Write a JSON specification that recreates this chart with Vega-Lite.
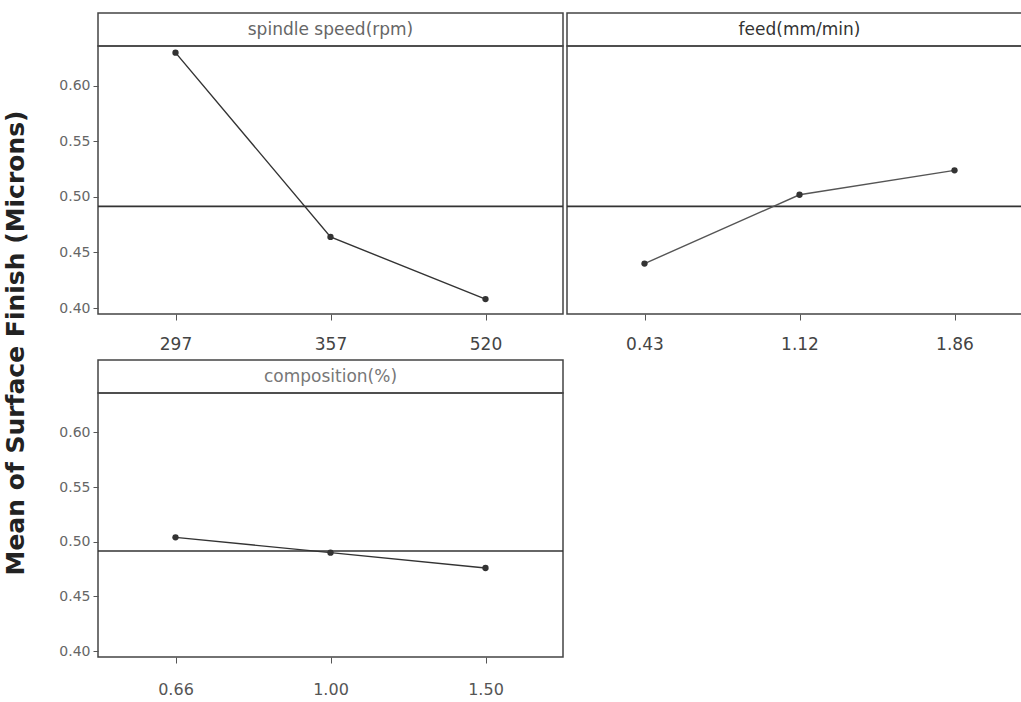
{
  "$schema": "https://vega.github.io/schema/vega-lite/v6.json",
  "padding": {"left": 3, "top": 12, "right": 0, "bottom": 0},
  "background": "white",
  "config": {
    "view": {"stroke": "#444", "strokeWidth": 1.5},
    "font": "DejaVu Sans",
    "axis": {"grid": false, "domain": false, "tickColor": "#555", "labelColor": "#444", "title": null},
    "concat": {"spacing": 0}
  },
  "datasets": {
    "effects": [
      {"factor": "spindle", "level": "297", "mean": 0.630},
      {"factor": "spindle", "level": "357", "mean": 0.464},
      {"factor": "spindle", "level": "520", "mean": 0.408},
      {"factor": "feed", "level": "0.43", "mean": 0.440},
      {"factor": "feed", "level": "1.12", "mean": 0.502},
      {"factor": "feed", "level": "1.86", "mean": 0.524},
      {"factor": "comp", "level": "0.66", "mean": 0.504},
      {"factor": "comp", "level": "1.00", "mean": 0.490},
      {"factor": "comp", "level": "1.50", "mean": 0.476}
    ],
    "grand": [{"mean": 0.4915}]
  },
  "hconcat": [
    {
      "width": 26,
      "height": 660,
      "view": {"stroke": null},
      "data": {"values": [{"t": "Mean of Surface Finish (Microns)"}]},
      "mark": {"type": "text", "angle": 270, "fontSize": 25, "fontWeight": "bold", "color": "#222"},
      "encoding": {"text": {"field": "t"}}
    },
    {
      "vconcat": [
        {
          "hconcat": [
            {
              "bounds": "flush",
              "vconcat": [
                {
                  "width": 465, "height": 33,
                  "data": {"values": [{"t": "spindle speed(rpm)"}]},
                  "layer": [
                    {"mark": {"type": "rect", "fill": "white", "stroke": "#444", "strokeWidth": 1.5}, "encoding": {}},
                    {"mark": {"type": "text", "fontSize": 17, "color": "#666"}, "encoding": {"text": {"field": "t"}}}
                  ]
                },
                {
                  "width": 465, "height": 268,
                  "layer": [
                    {
                      "data": {"name": "grand"},
                      "mark": {"type": "rule", "color": "#333", "strokeWidth": 1.6},
                      "encoding": {"y": {"field": "mean", "type": "quantitative", "scale": {"domain": [0.3946, 0.636], "nice": false, "zero": false},
                        "axis": {"values": [0.40, 0.45, 0.50, 0.55, 0.60], "format": ".2f", "labelFontSize": 14, "labelColor": "#666", "tickSize": 5, "labelPadding": 3}}}
                    },
                    {
                      "data": {"name": "effects"},
                      "transform": [{"filter": "datum.factor === 'spindle'"}],
                      "mark": {"type": "line", "color": "#333", "strokeWidth": 1.4, "point": {"filled": true, "size": 40, "color": "#333"}},
                      "encoding": {
                        "x": {"field": "level", "type": "ordinal", "sort": null, "scale": {"type": "point", "padding": 0.5},
                          "axis": {"labelAngle": 0, "labelFontSize": 17, "tickSize": 6, "labelPadding": 16}},
                        "y": {"field": "mean", "type": "quantitative"}
                      }
                    }
                  ]
                }
              ]
            },
            {
              "bounds": "flush",
              "vconcat": [
                {
                  "width": 465, "height": 33,
                  "data": {"values": [{"t": "feed(mm/min)"}]},
                  "layer": [
                    {"mark": {"type": "rect", "fill": "white", "stroke": "#444", "strokeWidth": 1.5}, "encoding": {}},
                    {"mark": {"type": "text", "fontSize": 17, "color": "#333"}, "encoding": {"text": {"field": "t"}}}
                  ]
                },
                {
                  "width": 465, "height": 268,
                  "layer": [
                    {
                      "data": {"name": "grand"},
                      "mark": {"type": "rule", "color": "#333", "strokeWidth": 1.6},
                      "encoding": {"y": {"field": "mean", "type": "quantitative", "scale": {"domain": [0.3946, 0.636], "nice": false, "zero": false}, "axis": null}}
                    },
                    {
                      "data": {"name": "effects"},
                      "transform": [{"filter": "datum.factor === 'feed'"}],
                      "mark": {"type": "line", "color": "#555", "strokeWidth": 1.4, "point": {"filled": true, "size": 40, "color": "#333"}},
                      "encoding": {
                        "x": {"field": "level", "type": "ordinal", "sort": null, "scale": {"type": "point", "padding": 0.5},
                          "axis": {"labelAngle": 0, "labelFontSize": 17, "tickSize": 6, "labelPadding": 16}},
                        "y": {"field": "mean", "type": "quantitative"}
                      }
                    }
                  ]
                }
              ]
            }
          ]
        },
        {
          "bounds": "flush",
          "vconcat": [
            {
              "width": 465, "height": 33,
              "data": {"values": [{"t": "composition(%)"}]},
              "layer": [
                {"mark": {"type": "rect", "fill": "white", "stroke": "#444", "strokeWidth": 1.5}, "encoding": {}},
                {"mark": {"type": "text", "fontSize": 17, "color": "#777"}, "encoding": {"text": {"field": "t"}}}
              ]
            },
            {
              "width": 465, "height": 264,
              "layer": [
                {
                  "data": {"name": "grand"},
                  "mark": {"type": "rule", "color": "#333", "strokeWidth": 1.6},
                  "encoding": {"y": {"field": "mean", "type": "quantitative", "scale": {"domain": [0.3946, 0.636], "nice": false, "zero": false},
                    "axis": {"values": [0.40, 0.45, 0.50, 0.55, 0.60], "format": ".2f", "labelFontSize": 14, "labelColor": "#666", "tickSize": 5, "labelPadding": 3}}}
                },
                {
                  "data": {"name": "effects"},
                  "transform": [{"filter": "datum.factor === 'comp'"}],
                  "mark": {"type": "line", "color": "#333", "strokeWidth": 1.4, "point": {"filled": true, "size": 40, "color": "#333"}},
                  "encoding": {
                    "x": {"field": "level", "type": "ordinal", "sort": null, "scale": {"type": "point", "padding": 0.5},
                      "axis": {"labelAngle": 0, "labelFontSize": 16, "tickSize": 6, "labelPadding": 18, "labelColor": "#555"}},
                    "y": {"field": "mean", "type": "quantitative"}
                  }
                }
              ]
            }
          ]
        }
      ],
      "spacing": 6
    }
  ],
  "spacing": 28
}
